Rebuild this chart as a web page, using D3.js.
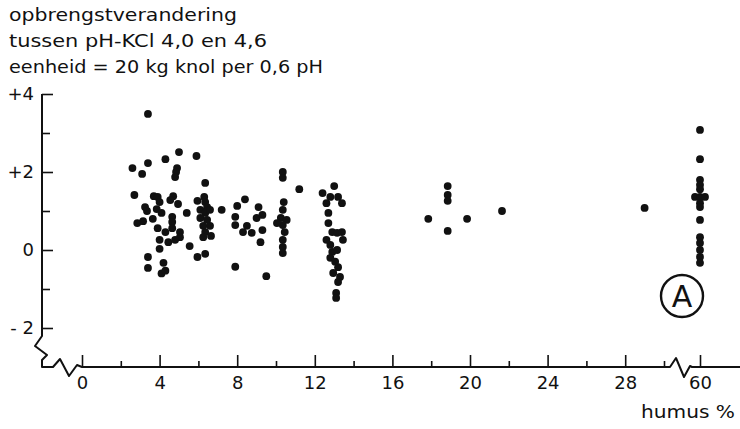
<!DOCTYPE html>
<html>
<head>
<meta charset="utf-8">
<script src="https://cdn.jsdelivr.net/npm/d3@7"></script>
<style>
  html, body { margin: 0; padding: 0; background: #fff; }
  svg { display: block; }
  text { font-family: "DejaVu Sans", sans-serif; fill: #111; }
</style>
</head>
<body>
<svg id="chart" width="740" height="429"></svg>
<script>
// Title lines (Dutch)
const titleLines = [
  "opbrengstverandering",
  "tussen pH-KCl 4,0 en 4,6",
  "eenheid = 20 kg knol per 0,6 pH"
];
const xLabel = "humus %";
const markerLabel = "A";

// Axis ticks
const xTicks = [0, 2, 4, 6, 8, 10, 12, 14, 16, 18, 20, 22, 24, 26, 28, 30, 60];
const xTickLabels = [0, 4, 8, 12, 16, 20, 24, 28, 60];
const yTicks = [-2, -1, 0, 1, 2, 3, 4];
const yTickLabels = [-2, 0, 2, 4];

// Observations: humus % and yield change per field
const humus = [
  2.6, 3.1, 3.4, 3.4, 2.7, 3.7, 3.9, 3.25, 3.35, 3.85, 4.0, 2.85, 3.15, 3.65, 3.4, 3.4, 4.0, 4.2, 4.1, 4.3, 3.9, 4.0, 4.3, 4.45, 4.3,
  5.0, 4.9, 4.85, 4.8, 4.7, 4.55, 4.95, 4.1, 4.65, 4.65, 4.65, 5.05, 5.05, 4.8, 5.4, 5.55,
  5.9, 6.35, 6.3, 5.95, 6.35, 6.45, 6.1, 6.35, 6.6, 6.1, 6.45, 6.25, 6.6, 6.35, 6.65, 6.25, 5.95, 6.35,
  7.2, 8.0, 7.9, 7.9, 7.9, 8.4, 8.3, 8.5, 8.75, 9.0, 9.1, 9.3, 9.3, 9.2, 9.5,
  10.35, 10.35, 10.4, 10.35, 10.25, 10.55, 10.35, 10.45, 10.35, 10.35, 10.35, 10.05,
  11.2,
  13.0, 12.4, 12.8, 13.2, 13.4, 12.6, 12.7, 12.7, 12.9, 13.15, 13.4, 12.8, 12.9, 13.15, 12.8, 13.05, 13.2, 12.95, 13.3, 13.2, 13.1, 13.1, 12.6, 13.45,
  17.85, 18.85, 18.85, 18.85, 18.85, 19.85, 21.65,
  29.0,
  60, 60, 60, 60, 60, 59, 60, 61, 60, 60, 60, 60, 60, 60, 60, 60
];
const change = [
  2.1, 1.95, 2.23, 3.49, 1.41, 1.38, 1.36, 1.1, 1.0, 1.05, 1.23, 0.69, 0.74, 0.8, -0.18, -0.46, 0.03, -0.33, -0.6, -0.53, 0.56, 0.26, 0.46, 0.2, 2.33,
  2.51, 2.1, 2.0, 1.87, 1.38, 1.28, 1.18, 0.95, 0.85, 0.72, 0.56, 0.46, 0.33, 0.26, 0.95, 0.1,
  2.41, 1.72, 1.36, 1.26, 1.23, 1.1, 1.03, 0.95, 1.03, 0.82, 0.77, 0.62, 0.62, 0.46, 0.36, 0.33, -0.18, -0.1,
  1.03, 1.13, 0.85, 0.64, -0.43, 1.3, 0.46, 0.62, 0.44, 0.82, 1.1, 0.9, 0.51, 0.2, -0.67,
  2.0, 1.85, 1.23, 1.03, 0.82, 0.77, 0.64, 0.46, 0.26, 0.08, -0.08, 0.69,
  1.56,
  1.64, 1.46, 1.36, 1.36, 1.2, 1.2, 0.95, 0.69, 0.46, 0.44, 0.46, 0.13, -0.05, 0.0, -0.2, -0.3, -0.44, -0.59, -0.69, -0.82, -1.1, -1.23, 0.26, 0.26,
  0.8, 1.64, 1.41, 1.26, 0.49, 0.8, 1.0,
  1.08,
  3.08, 2.33, 1.8, 1.67, 1.56, 1.36, 1.36, 1.36, 1.2, 1.1, 0.77, 0.33, 0.18, 0.0, -0.18, -0.33
];

const svg = d3.select("#chart");

// Broken horizontal scale: 0–30 linear, then a short stretch around 60
const x = d3.scaleLinear().domain([0, 30, 58, 62]).range([82, 664, 690, 710]);
const y = d3.scaleLinear().domain([-2, 4]).range([328, 94]);

const axisY = 367;   // baseline of the humus axis
const axisX = 42;    // position of the vertical axis

// Titles, stretched to the lettering width of the original typesetting
const titleWidths = [228, 258, 314];
svg.append("g").selectAll("text").data(titleLines).join("text")
  .attr("x", 9)
  .attr("y", (d, i) => 21 + i * 26)
  .attr("font-size", 18)
  .attr("textLength", (d, i) => titleWidths[i])
  .attr("lengthAdjust", "spacingAndGlyphs")
  .text(d => d);

// Vertical axis
const yAxis = d3.axisLeft(y)
  .tickValues(yTicks)
  .tickSize(-11)
  .tickPadding(8)
  .tickFormat(d => yTickLabels.includes(d) ? (d > 0 ? "+" + d : d < 0 ? "- " + Math.abs(d) : "0") : "");
const gy = svg.append("g").attr("transform", `translate(${axisX},0)`).call(yAxis);
gy.select(".domain").remove();
gy.selectAll(".tick line").attr("stroke", "#111").attr("stroke-width", 1.6)
  .attr("x2", d => yTickLabels.includes(d) ? 11 : 8);
gy.selectAll(".tick text").attr("font-size", 18).attr("font-family", "DejaVu Sans, sans-serif").attr("fill", "#111");

// Horizontal axis
const xAxis = d3.axisBottom(x)
  .tickValues(xTicks)
  .tickSize(-11)
  .tickPadding(9)
  .tickFormat(d => xTickLabels.includes(d) ? d : "");
const gx = svg.append("g").attr("transform", `translate(0,${axisY})`).call(xAxis);
gx.select(".domain").remove();
gx.selectAll(".tick line").attr("stroke", "#111").attr("stroke-width", 1.6)
  .attr("y2", d => xTickLabels.includes(d) ? -12 : -6);
gx.selectAll(".tick text").attr("font-size", 18).attr("font-family", "DejaVu Sans, sans-serif").attr("fill", "#111");

// Axis lines with break marks
const line = d3.line();
const yTop = y(4), yBottom = y(-2);
svg.append("path")
  .attr("d", line([
    [axisX, yTop], [axisX, yBottom + 8],
    [axisX - 7, yBottom + 18], [axisX + 5, yBottom + 27],
    [axisX, yBottom + 32], [axisX, axisY],
    [axisX + 11, axisY], [axisX + 18, axisY - 8], [axisX + 27, axisY + 9],
    [axisX + 35, axisY - 2], [x(0), axisY], [x(30) + 6, axisY],
    [x(30) + 12, axisY - 9], [x(30) + 20, axisY + 10], [x(30) + 26, axisY - 1],
    [x(30) + 28, axisY], [740, axisY]
  ]))
  .attr("fill", "none")
  .attr("stroke", "#111")
  .attr("stroke-width", 2)
  .attr("stroke-linejoin", "round");

// Axis title
svg.append("text")
  .attr("x", 641).attr("y", 418)
  .attr("font-size", 18)
  .attr("textLength", 94)
  .attr("lengthAdjust", "spacingAndGlyphs")
  .text(xLabel);

// Data points
svg.append("g").selectAll("circle").data(humus).join("circle")
  .attr("cx", d => x(d))
  .attr("cy", (d, i) => y(change[i]))
  .attr("r", 3.9)
  .attr("fill", "#111");

// Circled marker
const mk = svg.append("g").attr("transform", "translate(682,296)");
mk.append("circle").attr("r", 21).attr("fill", "none").attr("stroke", "#111").attr("stroke-width", 2.4);
mk.append("text").attr("text-anchor", "middle").attr("dy", "0.36em")
  .attr("font-size", 30).text(markerLabel);
</script>
</body>
</html>
